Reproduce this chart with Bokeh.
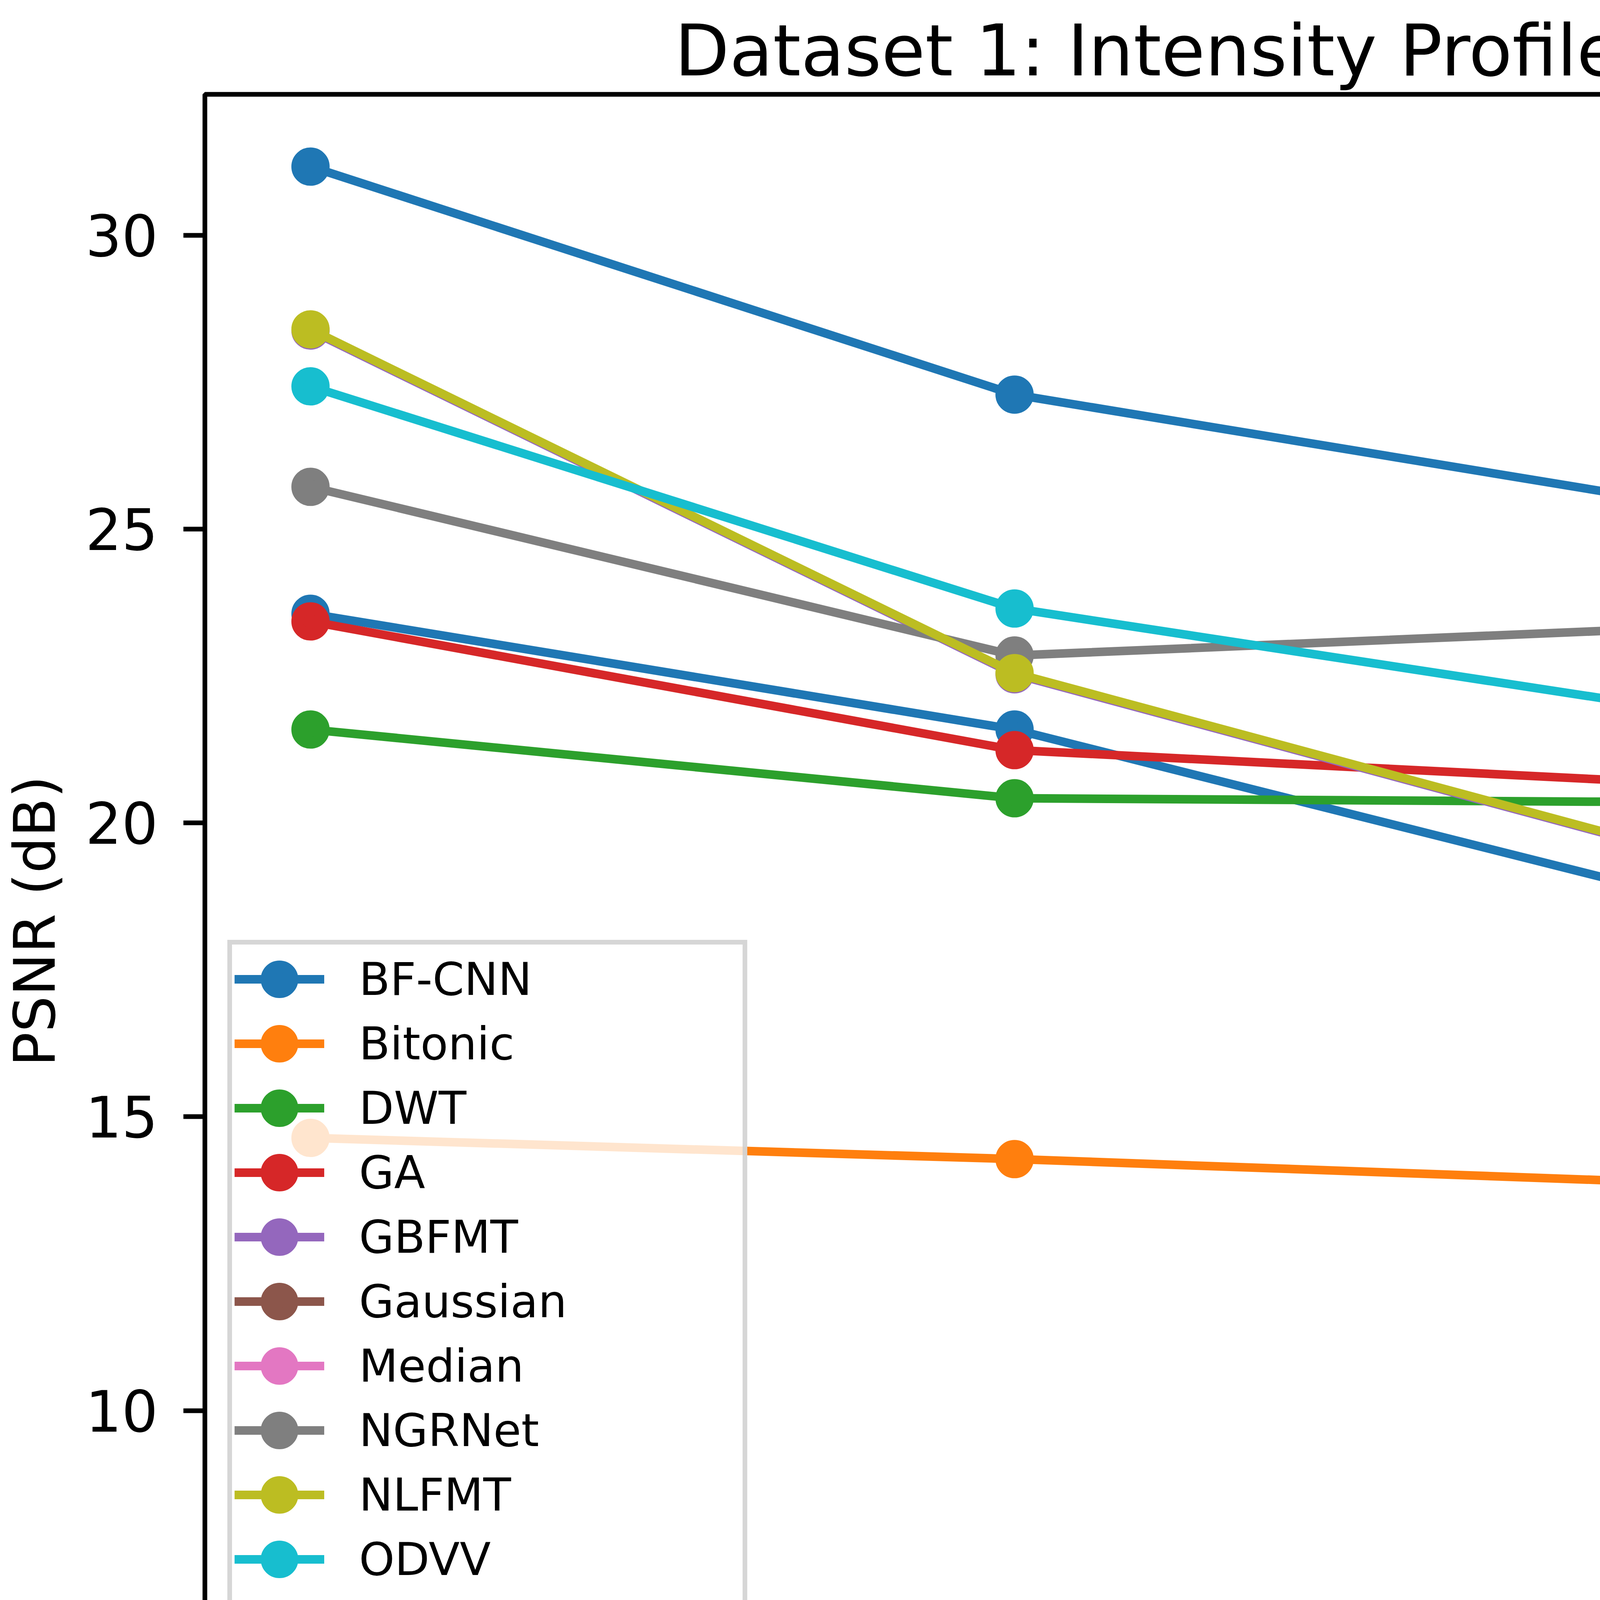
from bokeh.plotting import figure
from bokeh.models import Legend, LegendItem, SingleIntervalTicker, Range1d
from bokeh.embed import file_html
from bokeh.resources import INLINE

# ---- data ----
sigma = [10, 20, 30, 40]

series_names = ["BF-CNN", "Bitonic", "DWT", "GA", "GBFMT", "Gaussian", "Median",
                "NGRNet", "NLFMT", "ODVV", "Proposed", "Rolling Guidance"]

bf_cnn = [23.56, 21.59, 18.58, 17.19]
bitonic = [5.72, 5.74, 5.95, 5.96]
dwt = [21.59, 20.42, 20.35, 13.32]
ga = [23.43, 21.24, 20.64, 14.35]
gbfmt = [28.38, 22.53, 19.30, 17.07]
gaussian = [5.78, 5.80, 6.07, 6.10]
median = [5.62, 5.67, 5.77, 5.79]
ngrnet = [25.72, 22.85, 23.35, 19.70]
nlfmt = [28.40, 22.55, 19.32, 17.13]
odvv = [27.43, 23.65, 21.82, 20.00]
proposed = [31.17, 27.29, 25.32, 23.92]
rolling = [14.64, 14.28, 13.85, 13.40]

series_values = [bf_cnn, bitonic, dwt, ga, gbfmt, gaussian, median,
                 ngrnet, nlfmt, odvv, proposed, rolling]

colors = ["#1f77b4", "#ff7f0e", "#2ca02c", "#d62728", "#9467bd", "#8c564b",
          "#e377c2", "#7f7f7f", "#bcbd22", "#17becf", "#1f77b4", "#ff7f0e"]

x_limits = (8.5, 41.5)
y_limits = (4.26, 32.40)

title_text = "Dataset 1: Intensity Profile (PSNR vs \u03c3)"
x_label = "\u03c3 (Noise Levels)"
y_label = "PSNR (dB)"

FONT = "DejaVu Sans"
PAGE_W, PAGE_H = 6510, 4950

p = figure(width=PAGE_W - 16, height=PAGE_H - 16, output_backend="svg", toolbar_location=None,
           x_range=Range1d(*x_limits), y_range=Range1d(*y_limits),
           min_border_left=523, min_border_right=22,
           min_border_top=241, min_border_bottom=460,
           title=title_text)

p.background_fill_color = "white"
p.border_fill_color = "white"
p.outline_line_color = "black"
p.outline_line_width = 12
p.grid.visible = False

p.title.text_font = FONT
p.title.text_font_size = "182px"
p.title.text_font_style = "normal"
p.title.text_color = "black"
p.title.align = "center"
p.title.standoff = 12

for ax, lab in ((p.xaxis[0], x_label), (p.yaxis[0], y_label)):
    ax.ticker = SingleIntervalTicker(interval=5, num_minor_ticks=0)
    ax.axis_label = lab
    ax.axis_label_text_font = FONT
    ax.axis_label_text_font_size = "146px"
    ax.axis_label_text_font_style = "normal"
    ax.axis_label_text_color = "black"
    ax.major_label_text_font = FONT
    ax.major_label_text_font_size = "146px"
    ax.major_label_text_color = "black"
    ax.axis_line_color = None
    ax.major_tick_line_color = "black"
    ax.major_tick_line_width = 12
    ax.major_tick_out = 55
    ax.major_tick_in = 0
    ax.minor_tick_line_color = None

p.xaxis[0].major_label_standoff = 26
p.xaxis[0].axis_label_standoff = 30
p.yaxis[0].major_label_standoff = 65
p.yaxis[0].axis_label_standoff = 42

items = []
for name, vals, col in zip(series_names, series_values, colors):
    r_line = p.line(sigma, vals, line_color=col, line_width=22)
    r_pts = p.scatter(sigma, vals, size=68, fill_color=col, line_color=col, line_width=30)
    items.append(LegendItem(label=name, renderers=[r_line, r_pts]))

legend = Legend(items=items, location=(58, 52))
legend.label_text_font = FONT
legend.label_text_font_size = "116px"
legend.label_text_color = "black"
legend.glyph_width = 230
legend.glyph_height = 165
legend.label_height = 165
legend.label_standoff = 89
legend.spacing = 0
legend.padding = 6
legend.margin = 0
legend.border_line_color = "#cccccc"
legend.border_line_alpha = 0.8
legend.border_line_width = 12
legend.background_fill_color = "white"
legend.background_fill_alpha = 0.8
p.add_layout(legend)

open("out.html", "w").write(file_html(p, INLINE))
